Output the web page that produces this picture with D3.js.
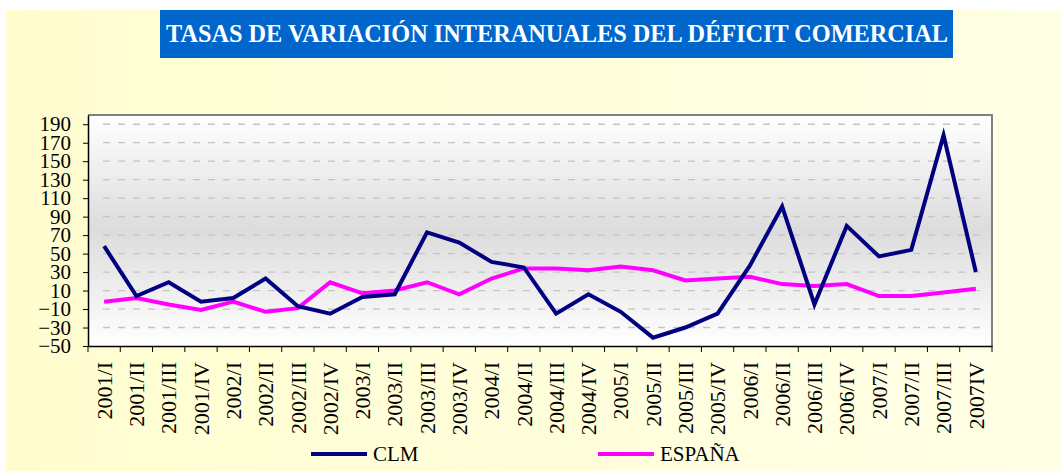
<!DOCTYPE html>
<html>
<head>
<meta charset="utf-8">
<script src="https://cdn.jsdelivr.net/npm/d3@7"></script>
<style>
  html, body { margin: 0; padding: 0; background: #ffffff; }
  svg { display: block; }
</style>
</head>
<body>
<svg id="chart" width="1062" height="472"></svg>
<script>
const title = "TASAS DE VARIACIÓN INTERANUALES DEL DÉFICIT COMERCIAL";
const categories = ["2001/I","2001/II","2001/III","2001/IV","2002/I","2002/II","2002/III","2002/IV",
  "2003/I","2003/II","2003/III","2003/IV","2004/I","2004/II","2004/III","2004/IV",
  "2005/I","2005/II","2005/III","2005/IV","2006/I","2006/II","2006/III","2006/IV",
  "2007/I","2007/II","2007/III","2007IV"];
const clm = [58, 4, 19, -2, 2, 23, -7, -15, 3, 6, 73, 62, 41, 35, -15, 6,
  -13, -41, -30, -15, 37, 101, -5, 80, 47, 54, 178, 30];
const espana = [-2, 2, -5, -11, -2, -13, -9, 19, 7, 10, 19, 6, 23, 34, 34, 32,
  36, 32, 21, 23, 25, 17, 15, 17, 4, 4, 8, 12];
const yTicks = [-50, -30, -10, 10, 30, 50, 70, 90, 110, 130, 150, 170, 190];
const yDomain = [-50, 200];
const seriesNames = ["CLM", "ESPAÑA"];
const seriesColors = ["#000080", "#ff00ff"];

const FONT = "'Liberation Serif', 'Times New Roman', Times, serif";
const svg = d3.select("#chart");
const W = 1062, H = 472;
const plot = { left: 88, right: 992, top: 115, bottom: 346 };

const defs = svg.append("defs");
const bgGrad = defs.append("linearGradient").attr("id", "bgGrad")
  .attr("x1", 0).attr("y1", 0).attr("x2", 1).attr("y2", 0);
bgGrad.append("stop").attr("offset", "0%").attr("stop-color", "#fffdcf");
bgGrad.append("stop").attr("offset", "100%").attr("stop-color", "#ffffe6");
const plotGrad = defs.append("linearGradient").attr("id", "plotGrad")
  .attr("x1", 0).attr("y1", 0).attr("x2", 0).attr("y2", 1);
plotGrad.append("stop").attr("offset", "0%").attr("stop-color", "#ffffff");
plotGrad.append("stop").attr("offset", "50%").attr("stop-color", "#dcdcdc");
plotGrad.append("stop").attr("offset", "100%").attr("stop-color", "#ffffff");

svg.append("rect").attr("width", W).attr("height", H).attr("fill", "#ffffff");
svg.append("rect").attr("x", 6).attr("y", 10).attr("width", W - 6).attr("height", 461)
  .attr("fill", "url(#bgGrad)");

// Title box
svg.append("rect").attr("x", 160).attr("y", 10).attr("width", 793).attr("height", 48)
  .attr("fill", "#0066cc");
svg.append("text").attr("x", 166).attr("y", 42)
  .style("font-family", FONT).style("font-size", "25px").style("font-weight", "bold")
  .attr("fill", "#ffffff")
  .attr("textLength", 782).attr("lengthAdjust", "spacingAndGlyphs")
  .text(title);

const x = d3.scaleBand().domain(categories).range([plot.left, plot.right]);
const y = d3.scaleLinear().domain(yDomain).range([plot.bottom, plot.top]);

// plot area
svg.append("rect").attr("x", plot.left).attr("y", plot.top)
  .attr("width", plot.right - plot.left).attr("height", plot.bottom - plot.top)
  .attr("fill", "url(#plotGrad)");

// gridlines
svg.append("g").selectAll("line").data(yTicks.filter(d => d !== yDomain[0])).join("line")
  .attr("x1", plot.left + 15).attr("x2", plot.right - 5)
  .attr("y1", d => y(d)).attr("y2", d => y(d))
  .attr("stroke", "#c4c4c4").attr("stroke-width", 1.3)
  .attr("stroke-dasharray", "7,8");

// border top/right
svg.append("path")
  .attr("d", `M${plot.left},${plot.top}H${plot.right}V${plot.bottom}`)
  .attr("fill", "none").attr("stroke", "#808080").attr("stroke-width", 2);

// Y axis
const yAxis = svg.append("g").attr("transform", `translate(${plot.left},0)`)
  .call(d3.axisLeft(y).tickValues(yTicks).tickSize(5).tickPadding(12).tickSizeOuter(0));
yAxis.select(".domain").attr("stroke", "#000").attr("stroke-width", 1.5);
yAxis.selectAll(".tick line").attr("stroke", "#000");
yAxis.selectAll("text").style("font-size", "21px").style("font-family", FONT).attr("fill", "#000");

// X axis
const xAxis = svg.append("g").attr("transform", `translate(0,${plot.bottom})`)
  .call(d3.axisBottom(x).tickSize(0).tickSizeOuter(0));
xAxis.select(".domain").attr("stroke", "#000").attr("stroke-width", 1.5);
xAxis.selectAll(".tick text")
  .style("font-size", "22px").style("font-family", FONT).attr("fill", "#000")
  .attr("text-anchor", "end")
  .attr("transform", "rotate(-90)")
  .attr("x", -16).attr("y", 0).attr("dy", "0.35em");
// boundary ticks
const bounds = categories.map(c => x(c)).concat([x(categories[categories.length - 1]) + x.bandwidth()]);
svg.append("g").selectAll("line").data(bounds).join("line")
  .attr("x1", d => d).attr("x2", d => d)
  .attr("y1", plot.bottom).attr("y2", plot.bottom + 6)
  .attr("stroke", "#000").attr("stroke-width", 1);

// lines
const line = d3.line()
  .x((d, i) => x(categories[i]) + x.bandwidth() / 2)
  .y(d => y(d));
[[espana, 1], [clm, 0]].forEach(([s, idx]) => {
  svg.append("path").datum(s).attr("d", line)
    .attr("fill", "none").attr("stroke", seriesColors[idx])
    .attr("stroke-width", 4).attr("stroke-linejoin", "miter");
});

// legend
const legendPos = [{ x: 311, y: 454 }, { x: 598, y: 454 }];
seriesNames.forEach((n, i) => {
  const g = svg.append("g").attr("transform", `translate(${legendPos[i].x},${legendPos[i].y})`);
  g.append("line").attr("x1", 0).attr("x2", 56).attr("y1", 0).attr("y2", 0)
    .attr("stroke", seriesColors[i]).attr("stroke-width", 4);
  g.append("text").attr("x", 62).attr("y", 7)
    .style("font-size", "21px").style("font-family", FONT).attr("fill", "#000").text(n);
});
</script>
</body>
</html>
